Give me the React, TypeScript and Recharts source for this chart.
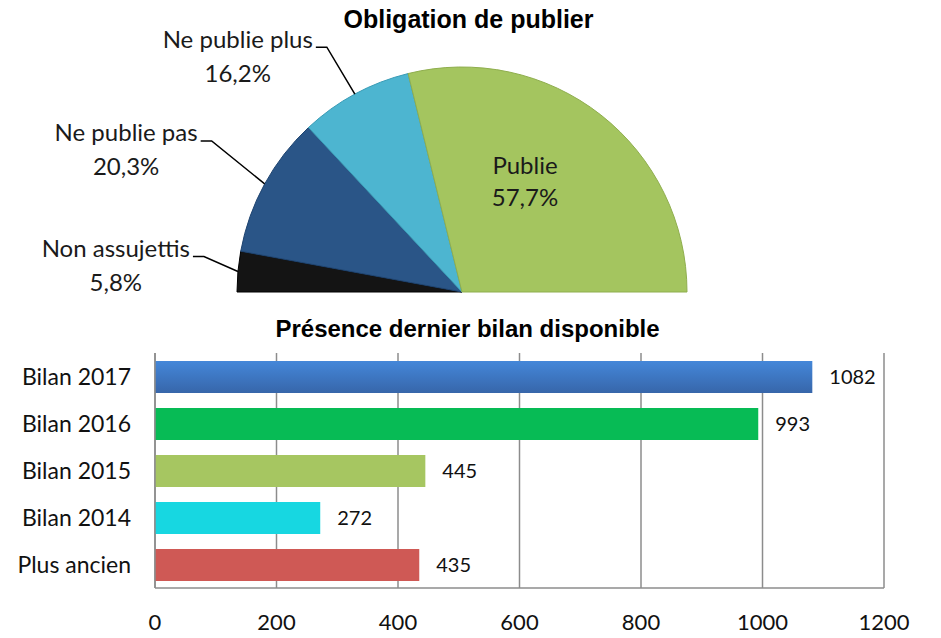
import React from "react";
import { PieChart, Pie, Cell, BarChart, Bar, XAxis, YAxis, CartesianGrid, LabelList } from "recharts";

// ---- Pie data ----
const pieNames = ["Non assujettis", "Ne publie pas", "Ne publie plus", "Publie"];
const pieValues = [5.8, 20.3, 16.2, 57.7];
const pieColors = ["#141414", "#2a5587", "#4db5d0", "#a4c55f"];
const pieStrokes = ["#000000", "#1f4470", "#3a9cb6", "#8fae4e"];

// ---- Bar data ----
const barCategories = ["Bilan 2017", "Bilan 2016", "Bilan 2015", "Bilan 2014", "Plus ancien"];
const barValues = [1082, 993, 445, 272, 435];
const barColors = ["url(#gradBlue)", "#07bb55", "#a6c661", "#17d7e1", "#cf5955"];
const xTicks = [0, 200, 400, 600, 800, 1000, 1200];

// layout: label elbow offsets from the slice's outer edge (outside labels) / from centre (inside label)
const labelOffsets = [
  { dx: -34, dy: -15 },
  { dx: -53, dy: -43 },
  { dx: -28, dy: -47 },
  { dx: 63, dy: -112 },
];

const pieData = pieNames.map((name, i) => ({ name, value: pieValues[i] }));
const barData = barCategories.map((name, i) => ({ name, value: barValues[i] }));

const FONT = "Lato, 'Open Sans', sans-serif";
const LABEL_SIZE = 24;

let measureCtx: CanvasRenderingContext2D | null = null;
function textWidth(t: string, font: string) {
  if (typeof document === "undefined") return t.length * 10;
  if (!measureCtx) measureCtx = document.createElement("canvas").getContext("2d");
  if (!measureCtx) return t.length * 10;
  measureCtx.font = font;
  return measureCtx.measureText(t).width;
}

const fmtPct = (v: number) => v.toFixed(1).replace(".", ",") + "%";

const renderPieLabel = (props: any) => {
  const { cx, cy, midAngle, outerRadius, index, name, value } = props;
  const RAD = Math.PI / 180;
  const off = labelOffsets[index];
  if (index === 3) {
    const x = cx + off.dx;
    const y = cy + off.dy;
    return (
      <g>
        <text x={x} y={y - 16} textAnchor="middle" dominantBaseline="central" fontFamily={FONT} fontSize={LABEL_SIZE} fill="#1a1a1a">
          {name}
        </text>
        <text x={x} y={y + 16} textAnchor="middle" dominantBaseline="central" fontFamily={FONT} fontSize={LABEL_SIZE} fill="#1a1a1a">
          {fmtPct(value)}
        </text>
      </g>
    );
  }
  const ex = cx + outerRadius * Math.cos(-midAngle * RAD);
  const ey = cy + outerRadius * Math.sin(-midAngle * RAD);
  const elx = ex + off.dx;
  const ely = ey + off.dy;
  const lineStart = elx - 11;
  const textEnd = lineStart - 3;
  const w = textWidth(name, `${LABEL_SIZE}px ${FONT}`);
  const center = textEnd - w / 2;
  return (
    <g>
      <polyline points={`${ex},${ey} ${elx},${ely} ${lineStart},${ely}`} fill="none" stroke="#000" strokeWidth={1.5} />
      <text x={textEnd} y={ely - 9} textAnchor="end" dominantBaseline="central" fontFamily={FONT} fontSize={LABEL_SIZE} fill="#1a1a1a">
        {name}
      </text>
      <text x={center} y={ely + 25} textAnchor="middle" dominantBaseline="central" fontFamily={FONT} fontSize={LABEL_SIZE} fill="#1a1a1a">
        {fmtPct(value)}
      </text>
    </g>
  );
};

export default function App() {
  return (
    <div style={{ position: "absolute", left: 0, top: 0, width: 941, height: 638, background: "#fff", overflow: "hidden" }}>
      <div style={{ position: "absolute", left: 0, top: 0 }}>
        <PieChart width={941} height={305} margin={{ top: 0, right: 0, bottom: 0, left: 0 }}>
          <Pie
            data={pieData}
            dataKey="value"
            nameKey="name"
            cx={462}
            cy={292}
            outerRadius={225}
            innerRadius={0}
            startAngle={180}
            endAngle={0}
            isAnimationActive={false}
            label={renderPieLabel}
            labelLine={false}
          >
            {pieData.map((d, i) => (
              <Cell key={d.name} fill={pieColors[i]} stroke={pieStrokes[i]} strokeWidth={1} />
            ))}
          </Pie>
        </PieChart>
      </div>
      <div
        style={{
          position: "absolute",
          left: 0,
          width: 941,
          top: 4,
          textAlign: "center",
          fontFamily: "'Liberation Sans', Arial, sans-serif",
          fontWeight: "bold",
          fontSize: 25,
          lineHeight: "30px",
          color: "#000",
        }}
      >
        <span style={{ position: "relative", left: -2 }}>Obligation de publier</span>
      </div>
      <div
        style={{
          position: "absolute",
          left: 0,
          width: 941,
          top: 314,
          textAlign: "center",
          fontFamily: "'Liberation Sans', Arial, sans-serif",
          fontWeight: "bold",
          fontSize: 24,
          lineHeight: "30px",
          color: "#000",
        }}
      >
        <span style={{ position: "relative", left: -3 }}>Présence dernier bilan disponible</span>
      </div>
      <div style={{ position: "absolute", left: 0, top: 300 }}>
        <BarChart
          width={941}
          height={338}
          data={barData}
          layout="vertical"
          margin={{ top: 53, right: 57, bottom: 0, left: 0 }}
          barSize={32}
        >
          <defs>
            <linearGradient id="gradBlue" x1="0" y1="0" x2="0" y2="1">
              <stop offset="0%" stopColor="#4487d9" />
              <stop offset="100%" stopColor="#3766aa" />
            </linearGradient>
          </defs>
          <CartesianGrid horizontal={false} stroke="#8c8c8c" strokeWidth={1.5} />
          <XAxis
            type="number"
            domain={[0, 1200]}
            ticks={xTicks}
            interval={0}
            height={50}
            tickLine={false}
            tickSize={0}
            tickMargin={26}
            axisLine={{ stroke: "#8c8c8c", strokeWidth: 1.5 }}
            tick={{ fontFamily: FONT, fontSize: 22, fill: "#111" }}
          />
          <YAxis
            type="category"
            dataKey="name"
            width={155}
            tickLine={false}
            tickSize={0}
            tickMargin={24}
            axisLine={{ stroke: "#8c8c8c", strokeWidth: 1.5 }}
            tick={{ fontFamily: FONT, fontSize: 23, fill: "#111" }}
          />
          <Bar dataKey="value" isAnimationActive={false}>
            {barData.map((d, i) => (
              <Cell key={d.name} fill={barColors[i]} />
            ))}
            <LabelList dataKey="value" position="right" offset={17} style={{ fontFamily: FONT, fontSize: 20, fill: "#111" }} />
          </Bar>
        </BarChart>
      </div>
    </div>
  );
}
